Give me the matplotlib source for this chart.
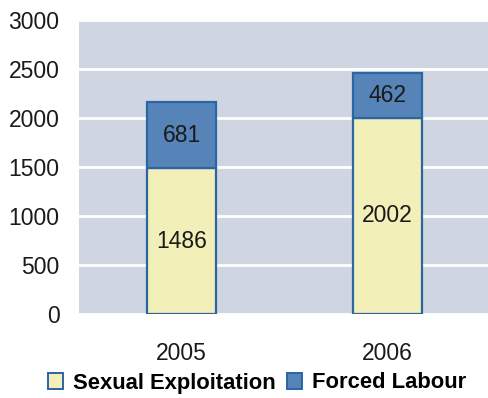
import matplotlib
matplotlib.use("Agg")
import matplotlib.pyplot as plt
import matplotlib.patches as mpatches
import numpy as np

years = ["2005", "2006"]
sexual_exploitation = [1486, 2002]
forced_labour = [681, 462]
y_ticks = [0, 500, 1000, 1500, 2000, 2500, 3000]

BG = "#CFD6E1"
YELLOW = "#F3EFB9"
BLUE = "#5784B8"
EDGE = "#2A66A3"

plt.rcParams["font.family"] = ["Liberation Sans", "DejaVu Sans"]

fig = plt.figure(figsize=(4.88, 3.98), dpi=100)
ax = fig.add_axes([79 / 488, 1 - 314 / 398, 1 - 79 / 488, (314 - 20) / 398])
ax.set_facecolor(BG)

x = np.arange(len(years))
w = 0.335
ax.bar(x, sexual_exploitation, w, color=YELLOW, edgecolor=EDGE, linewidth=1.6, zorder=3)
ax.bar(x, forced_labour, w, bottom=sexual_exploitation, color=BLUE,
       edgecolor=EDGE, linewidth=1.6, zorder=3)

for i in range(len(years)):
    ax.text(x[i], sexual_exploitation[i] / 2, f"{sexual_exploitation[i]}",
            ha="center", va="center", fontsize=16.5, color="#1a1a1a", zorder=4)
    ax.text(x[i], sexual_exploitation[i] + forced_labour[i] / 2, f"{forced_labour[i]}",
            ha="center", va="center", fontsize=16.5, color="#1a1a1a", zorder=4)

ax.set_xlim(-0.5, 1.49)
ax.set_ylim(0, 3000)
ax.set_yticks(y_ticks)
ax.set_yticklabels([str(t) for t in y_ticks], fontsize=16.5, color="#1a1a1a")
ax.set_xticks(x)
ax.set_xticklabels(years, fontsize=16.5, color="#1a1a1a")
ax.tick_params(axis="y", length=0, pad=14)
ax.tick_params(axis="x", length=0, pad=20)
ax.grid(axis="y", color="white", linewidth=2, zorder=1)
for s in ax.spines.values():
    s.set_visible(False)

handles = [mpatches.Patch(facecolor=YELLOW, edgecolor=EDGE, linewidth=1.4, label="Sexual Exploitation"),
           mpatches.Patch(facecolor=BLUE, edgecolor=EDGE, linewidth=1.4, label="Forced Labour")]
fig.legend(handles=handles, loc="center", bbox_to_anchor=(257 / 488, 1 - 383 / 398),
           ncol=2, frameon=False, prop={"weight": "bold", "size": 15.8},
           handlelength=0.7, handleheight=0.7, handletextpad=0.45, columnspacing=0.5,
           borderaxespad=0)

fig.savefig("out.png", dpi=100)
